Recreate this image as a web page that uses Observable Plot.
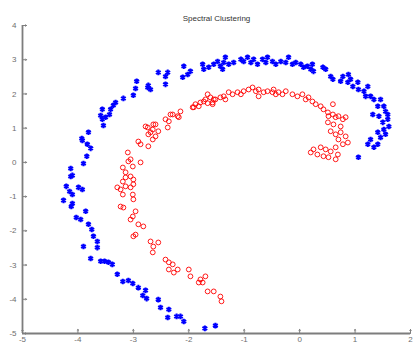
<!DOCTYPE html>
<html><head><meta charset="utf-8">
<script src="https://cdn.jsdelivr.net/npm/d3@7"></script>
<script src="https://cdn.jsdelivr.net/npm/@observablehq/plot@0.6"></script>
<style>body{margin:0;background:#fff}</style>
</head><body><div id="chart"></div>
<script>
const title = "Spectral Clustering";
const xTicks = [-5,-4,-3,-2,-1,0,1,2];
const yTicks = [-5,-4,-3,-2,-1,0,1,2,3,4];

const blueX = [-1.52,-1.71,-2.09,-2.15,-2.22,-2.36,-2.38,-2.51,-2.55,-2.76,
-2.83,-2.78,-2.91,-3.01,-3.09,-3.19,-3.29,-3.38,-3.45,-3.52,
-3.59,-3.77,-3.90,-3.65,-3.65,-3.72,-3.75,-3.81,-3.86,-3.95,
-4.03,-4.10,-4.12,-4.26,-4.10,-4.15,-4.21,-3.99,-3.92,-4.13,
-4.10,-4.13,-3.90,-3.84,-3.77,-3.83,-3.92,-3.93,-3.81,-3.54,
-3.50,-3.56,-3.59,-3.43,-3.41,-3.56,-3.36,-3.32,-3.18,-3.00,
-2.96,-2.94,-2.73,-2.69,-2.74,-2.55,-2.42,-2.38,-2.42,-2.09,
-2.11,-2.02,-1.97,-1.75,-1.73,-1.64,-1.55,-1.48,-1.43,-1.37,
-1.34,-1.39,-1.28,-1.19,-1.06,-1.01,-0.94,-0.88,-0.83,-0.76,
-0.67,-0.61,-0.58,-0.49,-0.43,-0.34,-0.25,-0.20,-0.13,-0.07,
0.02,0.07,0.14,0.20,0.23,0.25,0.42,0.47,0.56,0.60,
0.78,0.74,0.88,0.92,0.87,0.96,1.05,1.06,1.16,1.23,
1.19,1.28,1.34,1.46,1.41,1.52,1.55,1.59,1.32,1.43,
1.59,1.50,1.61,1.52,1.41,1.55,1.46,1.28,1.41,1.23,
1.34,1.06];
const blueY = [-4.77,-4.85,-4.65,-4.50,-4.50,-4.30,-4.53,-4.24,-4.01,-3.98,
-3.89,-3.74,-3.66,-3.54,-3.45,-3.48,-3.27,-2.98,-2.92,-2.89,
-2.89,-2.81,-2.46,-2.49,-2.31,-2.16,-1.96,-1.81,-1.43,-1.67,
-1.61,-1.20,-1.29,-1.11,-0.94,-0.85,-0.70,-0.73,-0.79,-0.41,
-0.38,-0.18,-0.03,0.18,0.41,0.53,0.64,0.70,0.88,1.08,
1.32,1.26,1.37,1.40,1.55,1.55,1.67,1.75,1.87,1.96,
2.16,2.37,2.25,2.13,2.19,2.63,2.51,2.63,2.28,2.81,
2.49,2.57,2.66,2.87,2.72,2.78,2.87,2.95,2.81,2.92,
3.07,2.72,2.87,2.92,3.01,2.95,3.07,2.92,3.01,2.87,
3.01,2.92,3.07,2.95,2.87,2.95,2.92,3.07,2.87,2.92,
2.87,2.78,2.81,2.72,2.87,2.66,2.78,2.72,2.51,2.43,
2.51,2.37,2.57,2.43,2.34,2.22,2.34,2.13,2.08,2.22,
1.93,1.93,1.84,1.84,1.64,1.64,1.49,1.40,1.40,1.35,
1.26,1.17,1.05,0.96,0.88,0.82,0.73,0.67,0.53,0.53,
0.44,0.15];

const redX = [-1.91,-1.82,-1.79,-1.66,-1.57,-2.15,-2.18,-2.33,-2.36,-2.42,
-2.38,-2.64,-2.74,-2.69,-2.55,-2.60,-2.65,-2.91,-2.87,-2.73,
-2.78,-3.10,-3.05,-3.09,-2.87,-3.01,-3.19,-3.14,-3.14,-3.05,
-3.00,-3.19,-3.29,-3.14,-3.00,-3.23,-3.05,-3.19,-3.01,-3.00,
-3.23,-3.18,-2.96,-3.01,-3.05,-2.91,-2.82,-3.00,-2.69,-2.64,
-2.55,-2.65,-2.42,-2.36,-2.29,-2.36,-2.27,-2.20,-2.00,-1.97,
-1.82,-1.79,-1.75,-1.70,-1.66,-1.55,-1.43,-1.41,-2.96,-2.73,
-2.65,-2.60,-2.29,-2.20,-1.93,-1.88,-1.73,-1.66,-1.61,-1.57,
-1.52,-1.43,-1.34,-1.28,-1.21,-1.12,-1.06,-1.01,-0.92,-0.85,
-0.79,-0.74,-0.65,-0.58,-0.49,-0.43,-0.74,-0.47,-0.38,-0.31,
-0.25,-0.13,-0.04,0.05,0.11,0.16,0.23,0.29,0.38,0.43,
0.51,0.52,0.60,0.65,0.70,0.78,0.83,0.60,0.51,0.61,
0.74,0.56,0.65,0.74,0.83,0.70,0.87,0.78,0.65,0.56,
0.47,0.38,0.25,0.20,0.32,0.43,0.52,0.69,0.65,-1.70,
-1.55,-1.37];
const redY = [1.61,1.64,1.75,1.73,1.75,1.49,1.32,1.40,1.20,1.26,
1.02,1.11,1.02,0.88,0.91,0.76,0.67,0.61,0.53,0.47,
1.05,0.29,0.09,0.03,0.00,-0.12,-0.15,-0.29,-0.44,-0.41,
-0.50,-0.56,-0.73,-0.70,-0.64,-0.79,-0.73,-0.94,-0.94,-1.08,
-1.29,-1.32,-1.43,-1.58,-1.67,-1.81,-1.87,-2.16,-2.31,-2.46,
-2.34,-2.63,-2.84,-2.92,-2.98,-3.13,-3.22,-3.13,-3.13,-3.33,
-3.51,-3.42,-3.51,-3.33,-3.77,-3.77,-3.92,-4.06,-2.11,0.82,
0.96,1.11,1.40,1.35,1.61,1.70,1.78,1.99,1.90,1.70,
1.84,1.90,1.84,2.05,1.99,2.05,1.99,2.08,2.13,2.19,
2.08,2.13,2.05,2.08,2.05,1.99,1.93,2.13,2.05,1.99,
2.08,1.99,1.93,1.99,1.84,1.90,1.78,1.70,1.64,1.55,
1.46,1.35,1.40,1.32,1.35,1.26,1.32,1.70,1.17,1.11,
1.05,0.91,0.82,0.88,0.76,0.67,0.58,0.53,0.44,0.32,
0.38,0.44,0.38,0.29,0.23,0.18,0.15,0.23,0.09,1.84,
1.84,1.93];

const blue = blueX.map((x, i) => ({x, y: blueY[i]}));
const red = redX.map((x, i) => ({x, y: redY[i]}));

const axisColor = "#7d7d7d";
const chart = Plot.plot({
  width: 417, height: 351,
  marginLeft: 22, marginRight: 7, marginTop: 25, marginBottom: 18,
  style: {fontFamily: "'Liberation Sans', Arial, sans-serif", background: "#fff"},
  x: {domain: [-5, 2]},
  y: {domain: [-5, 4]},
  marks: [
    Plot.axisX(xTicks, {tickSize: 0, tickPadding: 3, fontSize: 8, color: "#6e6e6e", label: null, tickFormat: d => String(d)}),
    Plot.axisY(yTicks, {tickSize: 0, tickPadding: 6, fontSize: 8, color: "#6e6e6e", label: null, tickFormat: d => String(d)}),
    Plot.ruleY([-5], {stroke: axisColor, strokeWidth: 1.8}),
    Plot.ruleX([-5], {stroke: axisColor, strokeWidth: 1.8}),
    Plot.vector(xTicks, {x: d => d, y: -5, length: 4, rotate: 0, anchor: "start", stroke: axisColor, strokeWidth: 1}),
    Plot.vector(yTicks, {x: -5, y: d => d, length: 4, rotate: 90, anchor: "start", stroke: axisColor, strokeWidth: 1}),
    Plot.dot(red, {x: "x", y: "y", r: 2.4, stroke: "#f00", strokeWidth: 0.9, fill: "none"}),
    Plot.dot(blue, {x: "x", y: "y", symbol: "asterisk", r: 2.6, stroke: "#0000ff", strokeWidth: 2}),
    Plot.text([title], {frameAnchor: "top", dy: -10, fontSize: 8, fill: "#333"})
  ]
});
document.getElementById("chart").appendChild(chart);
</script>
</body></html>
